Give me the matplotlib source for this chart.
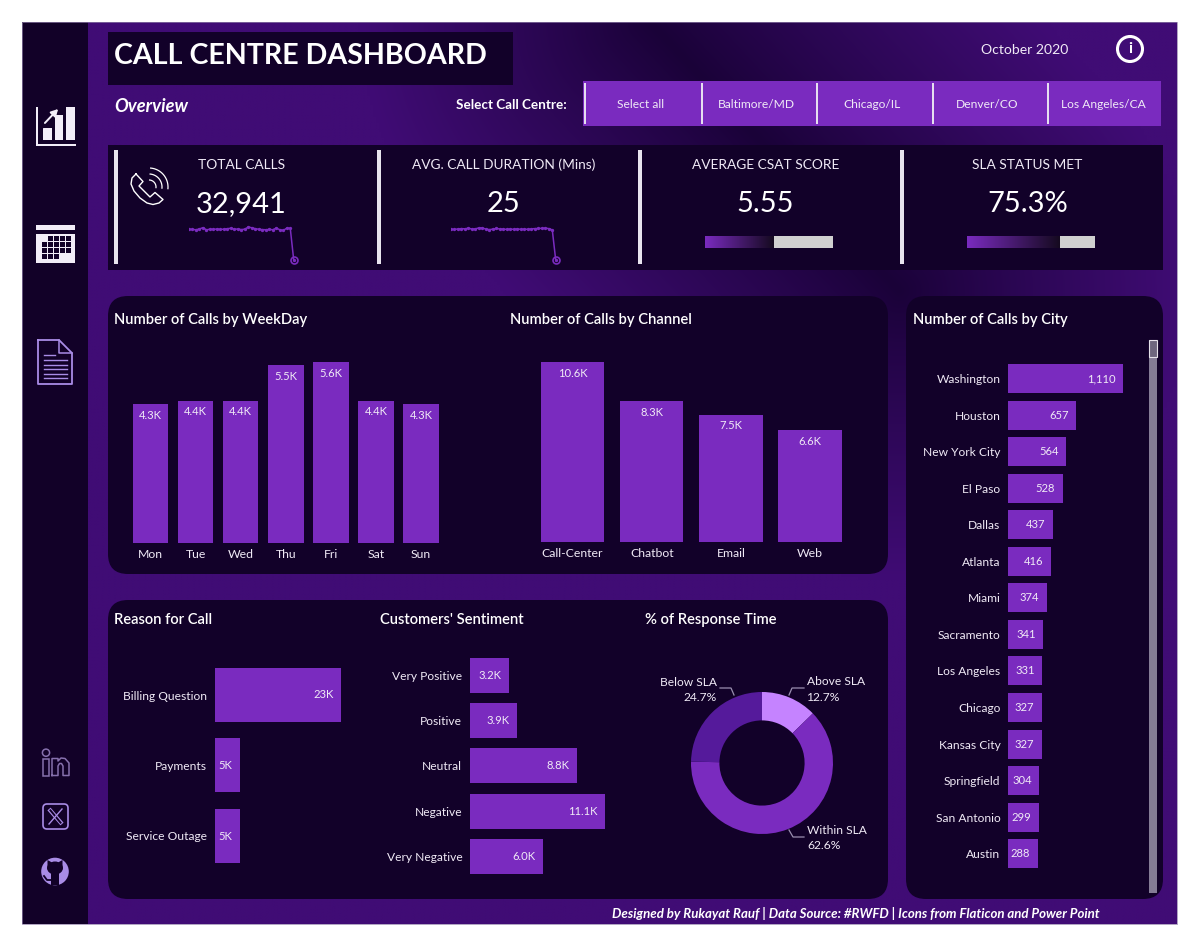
import numpy as np
import matplotlib
matplotlib.use("Agg")
import matplotlib.pyplot as plt
from matplotlib.patches import Rectangle, FancyBboxPatch, Circle, Polygon, Ellipse
from matplotlib.colors import LinearSegmentedColormap

plt.rcParams['font.family'] = ['Lato', 'DejaVu Sans']

# ---------- data ----------
weekdays = ["Mon", "Tue", "Wed", "Thu", "Fri", "Sat", "Sun"]
weekday_calls = [4.3, 4.4, 4.4, 5.5, 5.6, 4.4, 4.3]
channels = ["Call-Center", "Chatbot", "Email", "Web"]
channel_calls = [10.6, 8.3, 7.5, 6.6]
cities = ["Washington", "Houston", "New York City", "El Paso", "Dallas", "Atlanta", "Miami",
          "Sacramento", "Los Angeles", "Chicago", "Kansas City", "Springfield", "San Antonio", "Austin"]
city_calls = [1110, 657, 564, 528, 437, 416, 374, 341, 331, 327, 327, 304, 299, 288]
reasons = ["Billing Question", "Payments", "Service Outage"]
reason_calls = [23.4, 4.7, 4.7]
reason_labels = ["23K", "5K", "5K"]
sentiments = ["Very Positive", "Positive", "Neutral", "Negative", "Very Negative"]
sentiment_calls = [3.2, 3.9, 8.8, 11.1, 6.0]
sla_labels = ["Above SLA", "Within SLA", "Below SLA"]
sla_share = [12.7, 62.6, 24.7]
slicer_items = ["Select all", "Baltimore/MD", "Chicago/IL", "Denver/CO", "Los Angeles/CA"]
kpi_titles = ["TOTAL CALLS", "AVG. CALL DURATION (Mins)", "AVERAGE CSAT SCORE", "SLA STATUS MET"]
kpi_values = ["32,941", "25", "5.55", "75.3%"]
daily_calls = [1050, 1045, 1035, 1060, 1105, 1030, 1055, 1048, 1060, 1045, 1055, 1070, 1085, 1050, 1060,
               1040, 1055, 1125, 1100, 1070, 1050, 1040, 1035, 1045, 1035, 1090, 1035, 1010, 1090, 1080, 20]
daily_duration = [24.9, 25.0, 25.3, 25.6, 25.4, 26.0, 25.2, 25.4, 26.2, 26.1, 25.2, 24.8, 25.2, 25.7, 25.3, 25.2,
                  25.0, 25.3, 25.0, 25.4, 25.0, 25.2, 25.0, 25.4, 25.6, 25.7, 25.8, 26.0, 25.6, 24.6, 0.5]
csat_score = 5.55
sla_met = 75.3

# ---------- style ----------
W, H = 1200, 947
PURPLE = "#7a2bbf"
PANEL = "#120129"
SIDE = "#120128"
TXT = "#f0eaf6"
LAV = "#a98ce6"

fig = plt.figure(figsize=(12, 9.47), dpi=100, facecolor="white")
bg = fig.add_axes([0, 0, 1, 1])
bg.set_xlim(0, W)
bg.set_ylim(H, 0)
bg.axis("off")


def px(x):
    return x * 0.72


def pax(x0, y0, x1, y1):
    a = fig.add_axes([x0 / W, 1 - y1 / H, (x1 - x0) / W, (y1 - y0) / H])
    a.patch.set_alpha(0)
    for s in a.spines.values():
        s.set_visible(False)
    a.tick_params(length=0, colors=TXT)
    return a


def rect(x0, y0, x1, y1, c, z=2, **k):
    bg.add_patch(Rectangle((x0, y0), x1 - x0, y1 - y0, fc=c, ec="none", zorder=z, **k))


def rrect(x0, y0, x1, y1, c, r=20, z=2):
    bg.add_patch(FancyBboxPatch((x0 + r, y0 + r), x1 - x0 - 2 * r, y1 - y0 - 2 * r,
                                boxstyle=f"round,pad={r},rounding_size={r}", fc=c, ec="none", zorder=z))


def label(x, y, s, size, ha="left", va="center", weight="normal", style="normal", color=TXT, z=6):
    bg.text(x, y, s, fontsize=px(size), ha=ha, va=va, fontweight=weight, fontstyle=style, color=color, zorder=z)


# background gradient: dark band around a diagonal segment
yy, xx = np.mgrid[22:924:300j, 22:1177:400j]
ax_, ay_, bx_, by_ = 650.0, 20.0, 900.0, 290.0
u = np.clip(((xx - ax_) * (bx_ - ax_) + (yy - ay_) * (by_ - ay_)) / ((bx_ - ax_) ** 2 + (by_ - ay_) ** 2), 0, 1)
dist = np.hypot(xx - ax_ - u * (bx_ - ax_), yy - ay_ - u * (by_ - ay_))
t = np.clip(dist / 290, 0, 1) ** 0.9
c0 = np.array([0x1a, 0x02, 0x38]) / 255
c1 = np.array([0x40, 0x0c, 0x75]) / 255
grad = c0[None, None, :] * (1 - t[..., None]) + c1[None, None, :] * t[..., None]
bg.imshow(grad, extent=[22, 1177, 924, 22], aspect="auto", zorder=1, interpolation="bilinear")
bg.set_xlim(0, W)
bg.set_ylim(H, 0)

rect(22, 22, 88, 924, SIDE)
rect(108, 32, 513, 85, PANEL)
rect(108, 145, 1163, 270, PANEL)
rrect(108, 296, 888, 574, PANEL)
rrect(108, 600, 888, 899, PANEL)
rrect(906, 296, 1163, 899, PANEL)
bg.add_patch(Rectangle((22, 22), 1155, 902, fc="none", ec="#8f7fa8", lw=0.5, zorder=3))

# header
label(114.5, 55.5, "CALL CENTRE DASHBOARD", 28.6, weight="bold", color="white")
label(114.5, 106, "Overview", 18.3, weight="bold", style="italic", color="white")
label(567, 104.5, "Select Call Centre:", 13.5, ha="right", weight="bold", color="white")
label(1024.5, 49.5, "October 2020", 14, ha="center")
bg.add_patch(Circle((1130, 49), 12.5, fc="none", ec="white", lw=2.2, zorder=6))
label(1130, 49, "i", 16, ha="center", weight="bold", color="white")

# slicer
rect(583, 81, 1161, 126, PURPLE)
divs = [585, 702, 817, 933, 1048]
cents = [640.5, 756.5, 871.5, 987.5, 1103]
for dx, cx, item in zip(divs, cents, slicer_items):
    rect(dx - 1, 83, dx + 1.2, 124, "#e6dff0", z=3)
    label(cx, 104.5, item, 12, ha="center")

# KPI
for dx in [116, 379, 640, 902]:
    rect(dx - 1.7, 150, dx + 1.7, 264, "#e8e4ee", z=3)
for cx, title, val in zip([241.5, 503.5, 765.5, 1027.5], kpi_titles, kpi_values):
    label(cx, 165, title, 13.8, ha="center")
    label(cx, 204, val, 29, ha="center", color="white")

# sparklines
for x0, vals, scale in [(189, daily_calls, 1.0), (451, daily_duration, 1060 / 25.3)]:
    a = pax(x0, 224, x0 + 110, 264)
    days = np.arange(len(vals))
    v = np.asarray(vals) * scale
    a.plot(days, v, color=PURPLE, lw=1.1, marker="o", ms=2.4, mew=0)
    a.plot(days[-1], v[-1], "o", ms=5, mfc="none", mec=PURPLE, mew=1.2)
    a.set_xlim(0, 31.5)
    a.set_ylim(-100, 1225)
    a.set_xticks([])
    a.set_yticks([])

# gauges
gcmap = LinearSegmentedColormap.from_list("g", [PURPLE, "#150a20"])
for x0, value, vmax in [(705, csat_score, 10.44), (967, sla_met, 104.4)]:
    a = pax(x0, 236, x0 + 128, 248)
    a.set_facecolor("#d0d0d0")
    a.patch.set_alpha(1)
    a.imshow(np.linspace(0, 1, 128)[None, :], extent=[0, value, 0, 1], aspect="auto", cmap=gcmap)
    a.set_xlim(0, vmax)
    a.set_ylim(0, 1)
    a.set_xticks([])
    a.set_yticks([])

# panel titles
label(114.5, 320, "Number of Calls by WeekDay", 14.7, weight="semibold", color="white")
label(509.5, 319.5, "Number of Calls by Channel", 14.7, weight="semibold", color="white")
label(913, 320, "Number of Calls by City", 14.7, weight="semibold", color="white")
label(114.5, 620, "Reason for Call", 14.7, weight="semibold", color="white")
label(380, 620, "Customers' Sentiment", 14.7, weight="semibold", color="white")
label(645, 620, "% of Response Time", 14.7, weight="semibold", color="white")


def vbars(rect_px, cats, vals, width_frac, xlim, ymax):
    a = pax(*rect_px)
    b = a.bar(range(len(cats)), vals, width=width_frac, color=PURPLE)
    a.set_xlim(*xlim)
    a.set_ylim(0, ymax)
    a.set_xticks(range(len(cats)), cats, fontsize=px(12.2), color=TXT)
    a.set_yticks([])
    a.tick_params(axis="x", pad=4)
    a.bar_label(b, labels=[f"{v:.1f}K" for v in vals], padding=-12, color=TXT, fontsize=px(11.2))
    return a


# weekday: slot width 45.1 px, axes 128..444 px
vbars((128, 350, 444, 543), weekdays, weekday_calls, 35.5 / 45.1,
      ((128 - 150.5) / 45.1, (444 - 150.5) / 45.1), 5.6 * 193 / 181)
# channel: slot width 79.2 px
vbars((533, 350, 850, 542), channels, channel_calls, 63.5 / 79.2,
      ((533 - 572.5) / 79.2, (850 - 572.5) / 79.2), 10.6 * 192 / 180)


def hbars(rect_px, cats, vals, labels, height, ylim, xmax, fs=12, lab_fs=11.2):
    a = pax(*rect_px)
    a.barh(range(len(cats)), vals, height=height, color=PURPLE)
    a.set_xlim(0, xmax)
    a.set_ylim(*ylim)
    a.set_yticks(range(len(cats)), cats, fontsize=px(fs), color=TXT)
    a.set_xticks([])
    a.tick_params(axis="y", pad=5.5)
    for i, (v, s) in enumerate(zip(vals, labels)):
        a.annotate(s, (v, i), xytext=(-5.5, 0), textcoords="offset points", ha="right", va="center",
                   color=TXT, fontsize=px(lab_fs))
    return a


# city: step 36.55 px, first centre 378.5
hbars((1008, 360, 1140, 872), cities, city_calls, [f"{v:,}" for v in city_calls], 29 / 36.55,
      ((872 - 378.5) / 36.55, (360 - 378.5) / 36.55), 1110 * 132 / 115)
# reason: step 70.5 px, first centre 695
hbars((215, 655, 350, 875), reasons, reason_calls, reason_labels, 54 / 70.5,
      ((875 - 695) / 70.5, (655 - 695) / 70.5), 23.4 * 135 / 126)
# sentiment: step 45.4 px, first centre 675
hbars((470, 650, 615, 880), sentiments, sentiment_calls, [f"{v:.1f}K" for v in sentiment_calls], 35 / 45.4,
      ((880 - 675) / 45.4, (650 - 675) / 45.4), 11.1 * 145 / 135)

# scrollbar
rect(1149, 340, 1157, 893, "#857c96", z=3)
rect(1149, 340, 1157, 357, "#6e667e", z=4)
bg.add_patch(Rectangle((1149, 340), 8, 17, fc="none", ec="#e5e1ea", lw=0.8, zorder=5))

# donut
d_ax = pax(691, 692, 833, 834)
d_ax.pie(sla_share, colors=["#c583ff", PURPLE, "#551a9b"], startangle=90, counterclock=False, radius=1,
         wedgeprops=dict(width=0.4, lw=0))
d_ax.set_xlim(-1, 1)
d_ax.set_ylim(-1, 1)
label(717, 682, "Below SLA", 12, ha="right")
label(717, 697, f"{sla_share[2]}%", 12, ha="right")
label(807, 681.5, "Above SLA", 12)
label(807, 697, f"{sla_share[0]}%", 12)
label(807, 830, "Within SLA", 12)
label(807, 845, f"{sla_share[1]}%", 12)
for pts in [[(720, 688), (731, 688), (734, 695)], [(804, 688), (792, 688), (789, 695)], [(804, 837), (793, 837), (789, 830)]]:
    bg.plot(*zip(*pts), color="#9a8fb0", lw=0.9, zorder=5)

# footer
label(1100, 913.5, "Designed by Rukayat Rauf | Data Source: #RWFD | Icons from Flaticon and Power Point", 13.3,
      ha="right", weight="bold", style="italic", color="white")

# ---------- icons ----------
# chart icon
rect(36, 107, 38, 146, "#f2edf8", z=5)
rect(36, 143.5, 75.5, 146, "#f2edf8", z=5)
for x0, x1, y0 in [(43, 52, 128), (55, 63, 115), (66, 75, 107)]:
    rect(x0, y0, x1, 139.5, "#f2edf8", z=5)
bg.plot([43, 58], [125, 109], color=SIDE, lw=3.4, zorder=5.5)
bg.annotate("", xy=(60, 107), xytext=(43, 125),
            arrowprops=dict(arrowstyle="-|>,head_width=0.22,head_length=0.4", color="#f2edf8", lw=1.4), zorder=6)
# calendar
rect(36, 225, 75, 230, "#f2edf8", z=5)
rect(36, 233.5, 75, 263, "#f2edf8", z=5)
for r_i, y in enumerate([235.5, 241.7, 247.9, 254.1]):
    for c_i, x in enumerate([42, 48.1, 54.2, 60.3, 66.4]):
        if (r_i == 0 and c_i < 1) or (r_i == 3 and c_i > 2):
            continue
        rect(x, y, x + 5, y + 5, SIDE, z=6)
# document
doc = [(38, 340), (59, 340), (72, 353), (72, 384), (38, 384), (38, 340)]
bg.plot(*zip(*doc), color=LAV, lw=1.3, zorder=5)
bg.plot([59, 59, 72], [340, 353, 353], color=LAV, lw=1.1, zorder=5)
bg.plot([44, 55], [355, 355], color=LAV, lw=1, zorder=5)
for y in [360, 364.5, 369, 373.5, 378]:
    bg.plot([44, 67], [y, y], color=LAV, lw=1, zorder=5)
# linkedin (outlined letters)
DIM = "#8670ad"
bg.add_patch(Circle((46, 752.7), 3.6, fc="none", ec=DIM, lw=1.1, zorder=6))
bg.add_patch(Rectangle((42.6, 758.5), 6.6, 17, fc="none", ec=DIM, lw=1.1, zorder=6))
nx = [52, 52, 58, 58, 61, 65, 69, 69, 63, 63, 61.5, 59.5, 58, 58, 52]
ny = [775.5, 758.5, 758.5, 761, 758, 758.5, 763, 775.5, 775.5, 766, 763.5, 763.5, 766, 775.5, 775.5]
bg.plot(nx, ny, color=DIM, lw=1.1, zorder=6)
# X
bg.add_patch(FancyBboxPatch((47, 808), 17, 17, boxstyle="round,pad=4,rounding_size=4", fc="none", ec=LAV, lw=1.2, zorder=6))
bg.plot([49, 62], [809, 824], color=LAV, lw=3, zorder=6, solid_capstyle="butt")
bg.plot([49.8, 61.2], [809.6, 823.4], color=SIDE, lw=1.4, zorder=7, solid_capstyle="butt")
bg.plot([62, 49], [809, 824], color=LAV, lw=1, zorder=7)
# github
bg.add_patch(Circle((55, 871.5), 13.8, fc=LAV, ec="none", zorder=6))
bg.add_patch(Ellipse((55, 868), 16, 13, fc=SIDE, ec="none", zorder=7))
bg.add_patch(Polygon([(47.5, 867), (47.5, 860), (52, 862.5)], fc=SIDE, ec="none", zorder=7))
bg.add_patch(Polygon([(62.5, 867), (62.5, 860), (58, 862.5)], fc=SIDE, ec="none", zorder=7))
bg.add_patch(Rectangle((51, 873), 8, 12, fc=SIDE, ec="none", zorder=7))
bg.plot([44, 47, 51], [876, 880, 880], color=SIDE, lw=1.3, zorder=7)
# phone
hx = [136, 143, 139, 150, 155, 163, 159, 153, 147, 140, 134, 131, 132, 136]
hy = [174, 181.5, 186, 197, 192.5, 199.5, 203, 204.5, 203, 198, 191, 184, 178, 174]
bg.plot(hx, hy, color="white", lw=1.0, zorder=6)
for r in [7, 13, 19]:
    ang = np.linspace(np.radians(-85), np.radians(5), 24)
    bg.plot(149 + r * np.cos(ang), 187 + r * np.sin(ang), color="white", lw=0.9, zorder=6)

fig.savefig("out.png", dpi=100, facecolor="white")
